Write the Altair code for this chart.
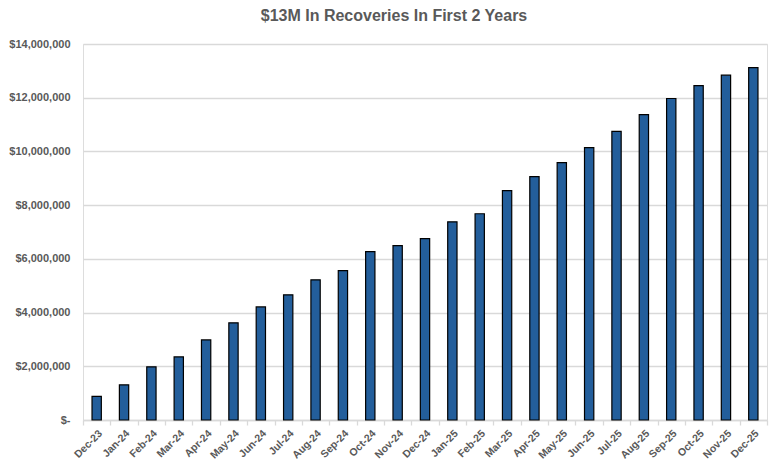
import altair as alt
import pandas as pd

months = ["Dec-23", "Jan-24", "Feb-24", "Mar-24", "Apr-24", "May-24", "Jun-24", "Jul-24",
          "Aug-24", "Sep-24", "Oct-24", "Nov-24", "Dec-24", "Jan-25", "Feb-25", "Mar-25",
          "Apr-25", "May-25", "Jun-25", "Jul-25", "Aug-25", "Sep-25", "Oct-25", "Nov-25", "Dec-25"]
recoveries = [880000, 1310000, 1980000, 2350000, 2980000, 3620000, 4210000, 4660000,
              5220000, 5560000, 6270000, 6490000, 6750000, 7380000, 7680000, 8540000,
              9060000, 9580000, 10140000, 10750000, 11370000, 11970000, 12450000, 12840000, 13120000]

df = pd.DataFrame({"month": months, "value": recoveries})

chart = alt.Chart(df).mark_bar(
    color="#235E9B", stroke="#000000", strokeWidth=1.2, width={"band": 0.34}
).encode(
    x=alt.X("month:N", sort=months, title=None,
            scale=alt.Scale(paddingInner=0, paddingOuter=0),
            axis=alt.Axis(labelAngle=-45, labelFont="Liberation Sans", labelFontWeight="bold",
                          labelFontSize=10.5, labelColor="#595959", domainColor="#D9D9D9",
                          domainWidth=1.3, tickColor="#D9D9D9", tickWidth=1.3, tickSize=5,
                          tickBand="extent", labelPadding=3, grid=False, labelOverlap=False)),
    y=alt.Y("value:Q", title=None,
            scale=alt.Scale(domain=[0, 14000000], nice=False),
            axis=alt.Axis(values=list(range(0, 14000001, 2000000)),
                          labelExpr="datum.value == 0 ? '$-' : '$' + format(datum.value, ',')",
                          labelFont="Liberation Sans", labelFontWeight="bold", labelFontSize=11,
                          labelColor="#595959", labelPadding=13, domain=False, ticks=False,
                          grid=True, gridColor="#D9D9D9", gridWidth=1.3)),
).properties(
    width=684, height=376,
    title=alt.TitleParams("$13M In Recoveries In First 2 Years", font="Liberation Sans",
                          fontSize=16, fontWeight="bold", color="#595959",
                          anchor="middle", dx=-31, offset=14),
    autosize=alt.AutoSizeParams(type="none"),
    padding={"left": 75, "top": 36, "right": 4, "bottom": 41},
).configure_view(stroke=None).configure(background="white")

chart.save("out.html", embed_options={"renderer": "svg", "actions": False})
